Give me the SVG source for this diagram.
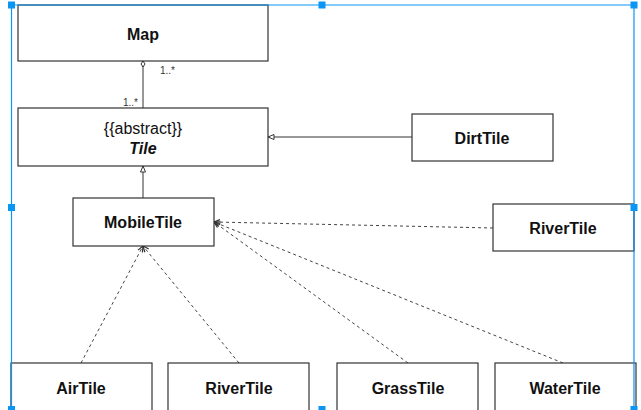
<svg xmlns="http://www.w3.org/2000/svg" width="641" height="410" viewBox="0 0 641 410">
<style>
.box{fill:#fff;stroke:#333;stroke-width:1.2}
.t{font-family:"Liberation Sans",Arial,sans-serif;font-size:16px;font-weight:bold;fill:#111;text-anchor:middle;dominant-baseline:central}
.n{font-family:"Liberation Sans",Arial,sans-serif;font-size:16px;fill:#111;text-anchor:middle;dominant-baseline:central}
.lbl{font-family:"Liberation Sans",Arial,sans-serif;font-size:10px;fill:#333}
.ln{stroke:#333;stroke-width:1;fill:none}
.dash{stroke:#444;stroke-width:1;fill:none;stroke-dasharray:3,3}
.sel{stroke:#0a96f5;stroke-width:1.2;fill:none}
.h{fill:#0a96f5}
</style>
<defs>
<marker id="tri" markerWidth="8" markerHeight="8" refX="7" refY="4" orient="auto" markerUnits="userSpaceOnUse">
<path d="M1,1.5 L7,4 L1,6.5 Z" fill="#fff" stroke="#333" stroke-width="1"/>
</marker>
<marker id="dia" markerWidth="8" markerHeight="8" refX="7" refY="4" orient="auto" markerUnits="userSpaceOnUse">
<path d="M1,4 L4,2 L7,4 L4,6 Z" fill="#fff" stroke="#333" stroke-width="1"/>
</marker>
<marker id="dep" markerWidth="8" markerHeight="8" refX="7" refY="4" orient="auto" markerUnits="userSpaceOnUse">
<path d="M1,1.5 L7,4 L1,6.5" fill="none" stroke="#333" stroke-width="1.2"/>
</marker>
</defs>
<g id="connectors">
<line class="ln" x1="143" y1="108" x2="143" y2="61" marker-end="url(#dia)"/>
<text class="lbl" x="160" y="74">1..*</text>
<text class="lbl" x="123" y="106">1..*</text>
<line class="ln" x1="412" y1="137" x2="268" y2="137" marker-end="url(#tri)"/>
<line class="ln" x1="143" y1="198" x2="143" y2="166" marker-end="url(#tri)"/>
<line class="dash" x1="493" y1="228" x2="214" y2="222" marker-end="url(#dep)"/>
<line class="dash" x1="408" y1="363" x2="214" y2="222" marker-end="url(#dep)"/>
<line class="dash" x1="563" y1="363" x2="214" y2="222" marker-end="url(#dep)"/>
<line class="dash" x1="81" y1="363" x2="143" y2="246" marker-end="url(#dep)"/>
<line class="dash" x1="239" y1="363" x2="143" y2="246" marker-end="url(#dep)"/>
</g>
<g id="Map"><rect class="box" x="18" y="5" width="250" height="56"/><text class="t" x="143" y="34">Map</text></g>
<g id="Tile"><rect class="box" x="18" y="108" width="250" height="58"/><text class="n" x="143" y="128">{{abstract}}</text><text class="t" x="143" y="148" font-style="italic">Tile</text></g>
<g id="DirtTile"><rect class="box" x="412" y="114" width="141" height="47"/><text class="t" x="482" y="138">DirtTile</text></g>
<g id="MobileTile"><rect class="box" x="73" y="198" width="141" height="48"/><text class="t" x="143" y="222">MobileTile</text></g>
<g id="RiverTile1"><rect class="box" x="493" y="204" width="141" height="47"/><text class="t" x="563" y="228">RiverTile</text></g>
<g id="AirTile"><rect class="box" x="11" y="363" width="141" height="60"/><text class="t" x="81" y="388">AirTile</text></g>
<g id="RiverTile2"><rect class="box" x="168" y="363" width="141" height="60"/><text class="t" x="239" y="388">RiverTile</text></g>
<g id="GrassTile"><rect class="box" x="337" y="363" width="141" height="60"/><text class="t" x="408" y="388">GrassTile</text></g>
<g id="WaterTile"><rect class="box" x="495" y="363" width="141" height="60"/><text class="t" x="565" y="388">WaterTile</text></g>
<g id="selection">
<path class="sel" d="M11.5,409 V5 H634 V409"/>
<rect class="h" x="8" y="1.5" width="7" height="7"/>
<rect class="h" x="318.5" y="1.5" width="7" height="7"/>
<rect class="h" x="630.5" y="1.5" width="7" height="7"/>
<rect class="h" x="8" y="204" width="7" height="7"/>
<rect class="h" x="630.5" y="204" width="7" height="7"/>
<rect class="h" x="8" y="406" width="7" height="7"/>
<rect class="h" x="318.5" y="406" width="7" height="7"/>
<rect class="h" x="630.5" y="406" width="7" height="7"/>
</g>
</svg>
